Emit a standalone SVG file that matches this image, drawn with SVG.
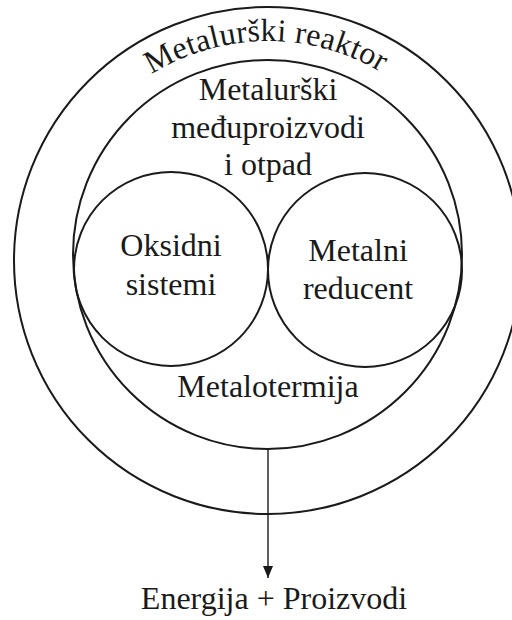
<svg xmlns="http://www.w3.org/2000/svg" width="512" height="620" viewBox="0 0 512 620">
  <style>
    .ring { fill: none; stroke: #1a1a1a; stroke-width: 2; }
    .lbl { font-family: "Liberation Serif", "Times New Roman", serif; font-size: 32px; fill: #1a1a1a; text-anchor: middle; }
    .conn { stroke: #1a1a1a; stroke-width: 1.4; fill: none; }
  </style>
  <defs>
    <marker id="arrow" viewBox="0 0 12 10" refX="12" refY="5" markerWidth="12" markerHeight="10" markerUnits="userSpaceOnUse" orient="auto">
      <path d="M0,0 L12,5 L0,10 Z" fill="#1a1a1a"/>
    </marker>
    <path id="arcReaktor" d="M 77.5 151 A 220 220 0 0 1 458.5 151"/>
  </defs>
  <rect width="512" height="620" fill="#ffffff"/>

  <g id="reaktor">
    <circle class="ring" cx="267.5" cy="260.5" r="253.5"/>
    <text class="lbl" letter-spacing="0.2"><textPath href="#arcReaktor" startOffset="49.5%">Metalurški reaktor</textPath></text>
  </g>

  <g id="medjuproizvodi">
    <circle class="ring" cx="267.5" cy="254.5" r="194.5"/>
    <text class="lbl" x="268" y="100">Metalurški</text>
    <text class="lbl" x="268" y="138">međuproizvodi</text>
    <text class="lbl" x="268" y="175">i otpad</text>
    <text class="lbl" x="268" y="397">Metalotermija</text>
  </g>

  <g id="oksidni">
    <circle class="ring" cx="171" cy="269" r="97"/>
    <text class="lbl" x="171" y="256">Oksidni</text>
    <text class="lbl" x="171" y="295">sistemi</text>
  </g>

  <g id="metalni">
    <circle class="ring" cx="365" cy="270" r="97"/>
    <text class="lbl" x="358" y="261">Metalni</text>
    <text class="lbl" x="358" y="299">reducent</text>
  </g>

  <g id="connectors">
    <line class="conn" x1="268" y1="449" x2="268" y2="578" marker-end="url(#arrow)"/>
  </g>

  <g id="proizvodi">
    <text class="lbl" x="274" y="609">Energija + Proizvodi</text>
  </g>
</svg>
